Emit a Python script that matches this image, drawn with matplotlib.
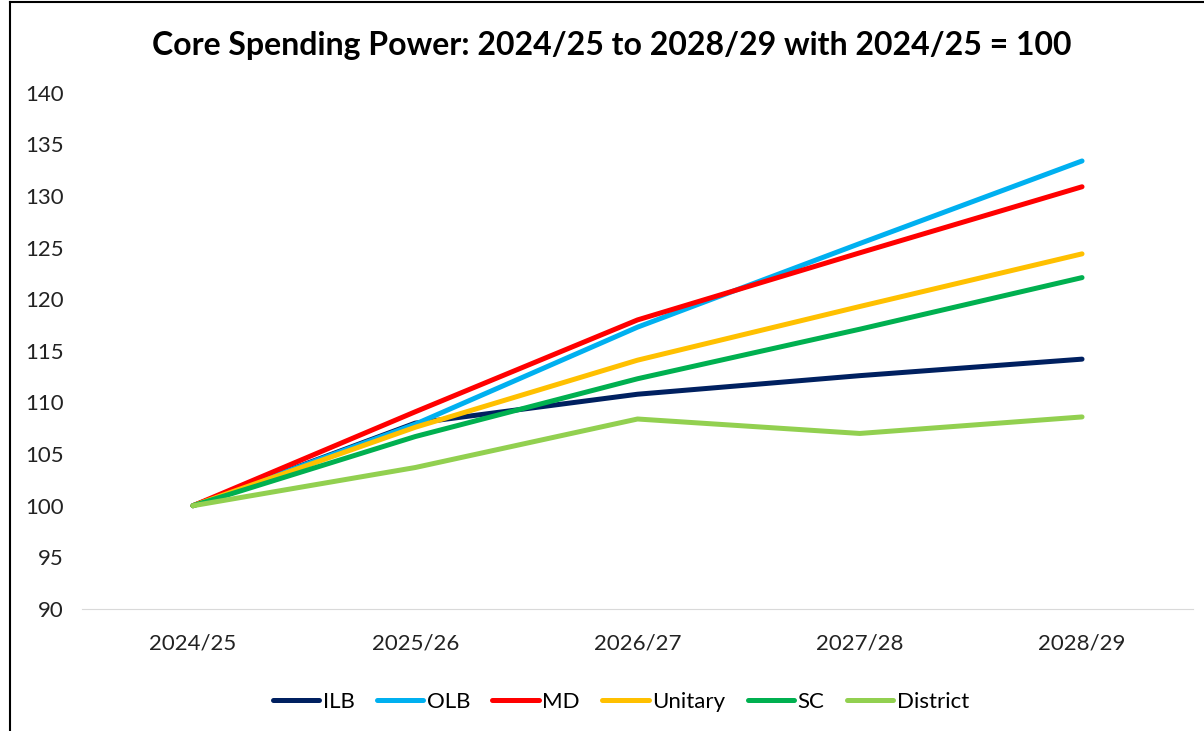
import matplotlib
matplotlib.use('Agg')
import matplotlib.pyplot as plt
from matplotlib.lines import Line2D

years = ['2024/25', '2025/26', '2026/27', '2027/28', '2028/29']

ilb = [100, 108.0, 110.8, 112.6, 114.2]
olb = [100, 107.9, 117.3, 125.4, 133.4]
md = [100, 109.1, 118.0, 124.5, 130.9]
unitary = [100, 107.6, 114.1, 119.3, 124.4]
sc = [100, 106.7, 112.3, 117.1, 122.1]
district = [100, 103.7, 108.4, 107.0, 108.6]

names = ['ILB', 'OLB', 'MD', 'Unitary', 'SC', 'District']
colours = ['#002060', '#00B0F0', '#FF0000', '#FFC000', '#00B050', '#92D050']

plt.rcParams['font.family'] = ['Lato', 'DejaVu Sans']

fig = plt.figure(figsize=(12.04, 7.31), dpi=100)
ax = fig.add_axes([0.068, 0.167, 0.923, 0.706])

x = range(len(years))
for series, name, col in zip([ilb, olb, md, unitary, sc, district], names, colours):
    ax.plot(x, series, color=col, linewidth=3.6, label=name, solid_capstyle='round')

ax.set_xlim(-0.5, len(years) - 0.5)
ax.set_ylim(90, 140)
ax.set_yticks(range(90, 141, 5))
ax.set_xticks(list(x))
ax.set_xticklabels(years)
ax.tick_params(axis='both', length=0, labelsize=16, colors='#222222')
ax.tick_params(axis='x', pad=18)
ax.tick_params(axis='y', pad=13)
for s in ['top', 'right', 'left']:
    ax.spines[s].set_visible(False)
ax.spines['bottom'].set_color('#d9d9d9')

fig.text(0.508, 0.938, 'Core Spending Power: 2024/25 to 2028/29 with 2024/25 = 100',
         fontsize=23, fontweight='bold', ha='center', va='center')

ax.legend(loc='center', bbox_to_anchor=(0.485, -0.18), ncol=6, frameon=False,
          fontsize=16, handlelength=2.1, handletextpad=0.15, columnspacing=1.0)

# frame of the screenshot: top and left edges only
fig.add_artist(Line2D([0.0085, 1.0], [0.997, 0.997], transform=fig.transFigure,
                      color='black', linewidth=1.5))
fig.add_artist(Line2D([0.0085, 0.0085], [0.0, 0.997], transform=fig.transFigure,
                      color='black', linewidth=1.5))

fig.savefig('out.png', dpi=100)
